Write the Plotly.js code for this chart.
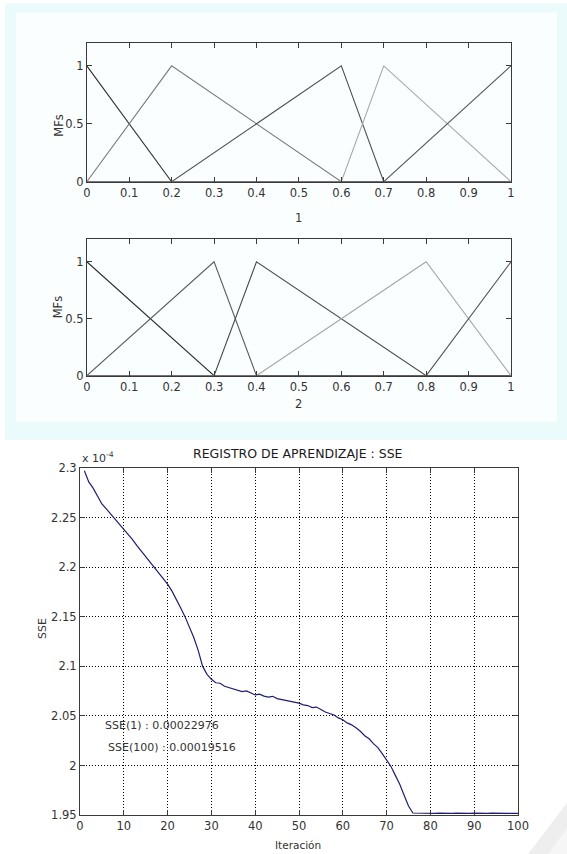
<!DOCTYPE html>
<html>
<head>
<meta charset="utf-8">
<script src="https://cdn.plot.ly/plotly-3.0.1.min.js"></script>
<style>html,body{margin:0;padding:0;background:#fff;}#chart{width:567px;height:854px;}</style>
</head>
<body>
<div id="chart"></div>
<script>
// ---- data ----
// triangular membership functions [a, b, c] for input 1 and input 2
const in1Params = [[-0.2, 0, 0.2], [0, 0.2, 0.6], [0.2, 0.6, 0.7], [0.6, 0.7, 1], [0.7, 1, 1.3]];
const in2Params = [[-0.3, 0, 0.3], [0, 0.3, 0.4], [0.3, 0.4, 0.8], [0.4, 0.8, 1], [0.8, 1, 1.2]];
const in1Colors = ['#2e2e2e', '#7a7a7a', '#505050', '#a8a8a8', '#5a5a5a'];
const in2Colors = ['#2e2e2e', '#5e5e5e', '#4a4a4a', '#a2a2a2', '#555555'];
const mfXTicks = [0, 0.1, 0.2, 0.3, 0.4, 0.5, 0.6, 0.7, 0.8, 0.9, 1];
const mfXTickText = ['0', '0.1', '0.2', '0.3', '0.4', '0.5', '0.6', '0.7', '0.8', '0.9', '1'];
const mfYTicks = [0, 0.5, 1];
const mfYTickText = ['0', '0.5', '1'];

// learning record (SSE in units of 1e-4)
const iterations = [1,2,3,4,5,6,7,8,9,10,11,12,13,14,15,16,17,18,19,20,21,22,23,24,25,26,27,28,29,30,
  31,32,33,34,35,36,37,38,39,40,41,42,43,44,45,46,47,48,49,50,51,52,53,54,55,56,57,58,59,60,
  61,62,63,64,65,66,67,68,69,70,71,72,73,74,75,76,77,78,79,80,81,82,83,84,85,86,87,88,89,90,
  91,92,93,94,95,96,97,98,99,100];
const sse = [2.2976,2.2862,2.2800,2.2712,2.2640,2.2590,2.2540,2.2490,2.2440,2.2390,
  2.2340,2.2280,2.2220,2.2165,2.2110,2.2050,2.1990,2.1935,2.1880,2.1830,
  2.1760,2.1680,2.1590,2.1500,2.1400,2.1290,2.1160,2.1000,2.0920,2.0870,
  2.0835,2.0830,2.0800,2.0785,2.0770,2.0762,2.0745,2.0752,2.0730,2.0712,
  2.0720,2.0700,2.0690,2.0698,2.0675,2.0665,2.0660,2.0650,2.0640,2.0630,
  2.0612,2.0605,2.0585,2.0590,2.0565,2.0540,2.0525,2.0510,2.0480,2.0462,
  2.0430,2.0410,2.0380,2.0345,2.0300,2.0270,2.0220,2.0180,2.0120,2.0060,
  1.9990,1.9900,1.9810,1.9700,1.9590,1.9520,1.9518,1.9518,1.9516,1.9517,
  1.9516,1.9518,1.9516,1.9517,1.9516,1.9518,1.9516,1.9517,1.9516,1.9518,
  1.9516,1.9517,1.9516,1.9518,1.9516,1.9517,1.9516,1.9517,1.9516,1.9516];
const sseXTicks = [0,10,20,30,40,50,60,70,80,90,100];
const sseYTicks = [1.95, 2, 2.05, 2.1, 2.15, 2.2, 2.25, 2.3];
const sseYTickText = ['1.95', '2', '2.05', '2.1', '2.15', '2.2', '2.25', '2.3'];
const sseFirstLabel = 'SSE(1) : 0.00022976';
const sseLastLabel = 'SSE(100) : 0.00019516';

// ---- helpers ----
const W = 567, H = 854;
const px = v => v / W;
const py = v => 1 - v / H;
function trimf(x, p) {
  const [a, b, c] = p;
  if (x <= a || x >= c) return (x === b) ? 1 : 0;
  if (x <= b) return (b === a) ? 1 : (x - a) / (b - a);
  return (c === b) ? 1 : (c - x) / (c - b);
}
function mfTrace(p, color, xa, ya) {
  const xs = [0, 1].concat(p.filter(v => v > 0 && v < 1));
  const uniq = Array.from(new Set(xs)).sort((m, n) => m - n);
  return {x: uniq, y: uniq.map(v => trimf(v, p)), type: 'scatter', mode: 'lines',
    line: {color: color, width: 1.1}, xaxis: xa, yaxis: ya, hoverinfo: 'skip', showlegend: false};
}

const traces = [];
in1Params.forEach((p, i) => traces.push(mfTrace(p, in1Colors[i], 'x', 'y')));
in2Params.forEach((p, i) => traces.push(mfTrace(p, in2Colors[i], 'x2', 'y2')));
traces.push({x: iterations, y: sse, type: 'scatter', mode: 'lines',
  line: {color: '#1f1f72', width: 1.2}, xaxis: 'x3', yaxis: 'y3', showlegend: false});

const FONT = 'DejaVu Sans, Arial, sans-serif';
const tickFont = {family: FONT, size: 11.5, color: '#333'};
function frameAxis(extra) {
  return Object.assign({
    showline: true, linecolor: '#3a3a3a', linewidth: 1, mirror: 'ticks',
    ticks: 'inside', ticklen: 5, tickcolor: '#3a3a3a', tickwidth: 1,
    showgrid: false, zeroline: false, tickfont: tickFont, fixedrange: true
  }, extra);
}

const layout = {
  width: W, height: H,
  margin: {l: 0, r: 0, t: 0, b: 0},
  paper_bgcolor: '#ffffff', plot_bgcolor: '#ffffff',
  showlegend: false,
  xaxis: frameAxis({domain: [px(86.8), px(511)], range: [0, 1], anchor: 'y',
    tickmode: 'array', tickvals: mfXTicks, ticktext: mfXTickText}),
  yaxis: frameAxis({domain: [py(181.7), py(42.7)], range: [0, 1.2], anchor: 'x',
    tickmode: 'array', tickvals: mfYTicks, ticktext: mfYTickText}),
  xaxis2: frameAxis({domain: [px(86.8), px(511)], range: [0, 1], anchor: 'y2',
    tickmode: 'array', tickvals: mfXTicks, ticktext: mfXTickText}),
  yaxis2: frameAxis({domain: [py(375.7), py(239)], range: [0, 1.2], anchor: 'x2',
    tickmode: 'array', tickvals: mfYTicks, ticktext: mfYTickText}),
  xaxis3: frameAxis({domain: [px(80), px(518)], range: [0, 100], anchor: 'y3',
    tickmode: 'array', tickvals: sseXTicks,
    showgrid: true, gridcolor: '#000', gridwidth: 1, griddash: '1px,2px'}),
  yaxis3: frameAxis({domain: [py(815), py(468.3)], range: [1.95, 2.3], anchor: 'x3',
    tickmode: 'array', tickvals: sseYTicks, ticktext: sseYTickText,
    showgrid: true, gridcolor: '#000', gridwidth: 1, griddash: '1px,2px'}),
  shapes: [
    {type: 'rect', xref: 'paper', yref: 'paper', x0: px(5), x1: 1, y0: py(440), y1: py(3.3),
      fillcolor: '#ebfbfc', line: {width: 0}, layer: 'below'},
    {type: 'rect', xref: 'paper', yref: 'paper', x0: px(16), x1: px(557), y0: py(421.7), y1: py(12.7),
      fillcolor: '#fbfefe', line: {width: 0}, layer: 'below'},
    {type: 'path', xref: 'paper', yref: 'paper', layer: 'below',
      path: `M ${px(528)} ${py(854)} L 1 ${py(803)} L 1 ${py(854)} Z`,
      fillcolor: '#eeeeee', line: {width: 0}},
    {type: 'path', xref: 'paper', yref: 'paper', layer: 'below',
      path: `M ${px(548)} ${py(854)} L 1 ${py(828)} L 1 ${py(854)} Z`,
      fillcolor: '#f6f6f6', line: {width: 0}}
  ],
  annotations: [
    {text: 'MFs', xref: 'paper', yref: 'paper', x: px(50), y: py(112.2), textangle: -90,
      showarrow: false, font: {family: FONT, size: 11.5, color: '#333'}},
    {text: '1', xref: 'paper', yref: 'paper', x: px(298), y: py(209),
      showarrow: false, font: {family: FONT, size: 11.5, color: '#333'}},
    {text: 'MFs', xref: 'paper', yref: 'paper', x: px(49), y: py(307.3), textangle: -90,
      showarrow: false, font: {family: FONT, size: 11.5, color: '#333'}},
    {text: '2', xref: 'paper', yref: 'paper', x: px(298), y: py(403.5),
      showarrow: false, font: {family: FONT, size: 11.5, color: '#333'}},
    {text: 'REGISTRO DE APRENDIZAJE : SSE', xref: 'paper', yref: 'paper', x: px(298), y: py(453),
      showarrow: false, font: {family: FONT, size: 12.5, color: '#1a1a1a'}},
    {text: 'x 10<sup>-4</sup>', xref: 'paper', yref: 'paper', x: px(80), y: py(457), xanchor: 'left',
      showarrow: false, font: {family: FONT, size: 11, color: '#333'}},
    {text: 'SSE', xref: 'paper', yref: 'paper', x: px(34), y: py(641), textangle: -90,
      showarrow: false, font: {family: FONT, size: 11, color: '#333'}},
    {text: 'Iteración', xref: 'paper', yref: 'paper', x: px(298), y: py(845), yanchor: 'middle',
      showarrow: false, font: {family: FONT, size: 10.5, color: '#333'}},
    {text: sseFirstLabel, xref: 'paper', yref: 'paper', x: px(103), y: py(734.3), xanchor: 'left',
      showarrow: false, font: {family: FONT, size: 11, color: '#333'}},
    {text: sseLastLabel, xref: 'paper', yref: 'paper', x: px(105.5), y: py(756), xanchor: 'left',
      showarrow: false, font: {family: FONT, size: 11, color: '#333'}}
  ]
};

Plotly.newPlot('chart', traces, layout, {staticPlot: true, displayModeBar: false});
</script>
</body>
</html>
